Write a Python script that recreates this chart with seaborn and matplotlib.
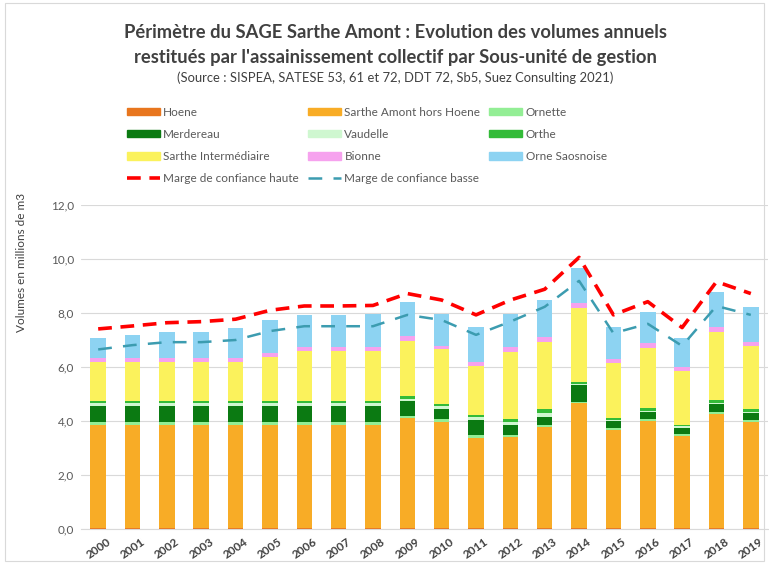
import numpy as np
import pandas as pd
import seaborn as sns
import matplotlib.pyplot as plt
from matplotlib.patches import Patch, Rectangle
from matplotlib.lines import Line2D

sns.set_style('white')
plt.rcParams['font.family'] = ['Lato', 'DejaVu Sans']

# Volumes restitués (millions de m3) par sous-unité de gestion, 2000-2019
years = list(range(2000, 2020))
hoene = [0.04] * 20
sarthe_amont = [3.81, 3.81, 3.81, 3.81, 3.81, 3.81, 3.81, 3.81, 3.81, 4.06,
                3.93, 3.32, 3.38, 3.73, 4.64, 3.63, 3.97, 3.42, 4.22, 3.93]
ornette = [0.10, 0.10, 0.10, 0.10, 0.10, 0.10, 0.10, 0.10, 0.10, 0.10,
           0.10, 0.12, 0.08, 0.08, 0.03, 0.08, 0.06, 0.06, 0.08, 0.08]
merdereau = [0.60, 0.60, 0.60, 0.60, 0.60, 0.60, 0.60, 0.60, 0.60, 0.54,
             0.37, 0.56, 0.35, 0.31, 0.62, 0.26, 0.27, 0.23, 0.28, 0.25]
vaudelle = [0.10, 0.10, 0.10, 0.10, 0.10, 0.10, 0.10, 0.10, 0.10, 0.09,
            0.10, 0.10, 0.12, 0.15, 0.03, 0.03, 0.04, 0.06, 0.06, 0.05]
orthe = [0.08, 0.08, 0.08, 0.08, 0.08, 0.08, 0.08, 0.08, 0.08, 0.10,
         0.09, 0.10, 0.10, 0.12, 0.10, 0.08, 0.09, 0.04, 0.10, 0.08]
sarthe_inter = [1.44, 1.44, 1.44, 1.44, 1.44, 1.65, 1.86, 1.86, 1.86, 2.04,
                2.04, 1.80, 2.47, 2.51, 2.71, 2.02, 2.25, 2.01, 2.53, 2.35]
bionne = [0.15, 0.15, 0.15, 0.15, 0.15, 0.15, 0.16, 0.16, 0.16, 0.18,
          0.12, 0.16, 0.19, 0.18, 0.21, 0.14, 0.16, 0.15, 0.18, 0.16]
orne = [0.75, 0.87, 0.99, 0.99, 1.11, 1.21, 1.18, 1.18, 1.20, 1.27,
        1.19, 1.29, 1.25, 1.36, 1.30, 1.21, 1.17, 1.07, 1.30, 1.29]
marge_haute = [7.41, 7.52, 7.64, 7.68, 7.77, 8.10, 8.26, 8.26, 8.28, 8.72,
               8.48, 7.93, 8.48, 8.88, 10.06, 7.93, 8.42, 7.46, 9.16, 8.72]
marge_basse = [6.65, 6.81, 6.92, 6.92, 7.00, 7.33, 7.51, 7.51, 7.51, 7.93,
               7.74, 7.19, 7.68, 8.23, 9.19, 7.25, 7.60, 6.78, 8.26, 7.93]

units = ['Hoene', 'Sarthe Amont hors Hoene', 'Ornette', 'Merdereau', 'Vaudelle',
         'Orthe', 'Sarthe Intermédiaire', 'Bionne', 'Orne Saosnoise']
values = [hoene, sarthe_amont, ornette, merdereau, vaudelle, orthe,
          sarthe_inter, bionne, orne]
colors = ['#E8761E', '#F8AC26', '#93EE95', '#0B7A12', '#CFF7D0', '#33BB38',
          '#FBF25C', '#F6A2EE', '#8DD3F2']

df = pd.DataFrame({'annee': np.tile(years, len(units)),
                   'unite': np.repeat(units, len(years)),
                   'volume': np.concatenate(values)})

fig = plt.figure(figsize=(7.69, 5.64), dpi=100)
ax = fig.add_axes([81/769, 35/564, 687/769, 324/564])

# seaborn empile en ordre inverse : la derniere modalite en bas
sns.histplot(data=df, x='annee', weights='volume', hue='unite',
             hue_order=units[::-1], palette=dict(zip(units, colors)),
             multiple='stack', discrete=True, shrink=0.45, linewidth=0,
             alpha=1, legend=False, ax=ax)

lines = pd.DataFrame({'annee': years, 'haute': marge_haute, 'basse': marge_basse})
sns.lineplot(data=lines, x='annee', y='basse', color='#3C9CB0', lw=1.8,
             linestyle=(0, (5.5, 4.5)), ax=ax)
sns.lineplot(data=lines, x='annee', y='haute', color='#FF0000', lw=2.6,
             linestyle=(0, (3.8, 2.4)), ax=ax)

ax.set_xlim(1999.5, 2019.5)
ax.set_ylim(0, 12)
ax.set_yticks(np.arange(0, 13, 2))
ax.set_yticklabels([f'{v:.1f}'.replace('.', ',') for v in np.arange(0, 13, 2)],
                   color='#595959', fontsize=8.5)
ax.set_xticks(years)
ax.set_xticklabels([str(y) for y in years], rotation=35, ha='center',
                   color='#404040', fontsize=8.5, fontweight='bold')
ax.tick_params(length=0, pad=5)
ax.set_xlabel('')
ax.set_ylabel('')
ax.yaxis.grid(True, color='#D9D9D9', lw=0.8)
ax.set_axisbelow(True)
for s in ['top', 'right', 'left']:
    ax.spines[s].set_visible(False)
ax.spines['bottom'].set_color('#D9D9D9')

fig.text(22/769, 1 - 262/564, 'Volumes en millions de m3', rotation=90,
         ha='center', va='center', fontsize=8.5, color='#404040')

fig.text(0.514, 1 - 33/564,
         'Périmètre du SAGE Sarthe Amont : Evolution des volumes annuels',
         ha='center', va='center', fontsize=13.2, fontweight='bold', color='#404040')
fig.text(0.514, 1 - 57/564,
         "restitués par l'assainissement collectif par Sous-unité de gestion",
         ha='center', va='center', fontsize=13.2, fontweight='bold', color='#404040')
fig.text(0.514, 1 - 78/564,
         '(Source : SISPEA, SATESE 53, 61 et 72, DDT 72, Sb5, Suez Consulting 2021)',
         ha='center', va='center', fontsize=9.4, color='#404040')

handles = [Patch(color=c) for c in colors]
handles += [Line2D([], [], color='#FF0000', lw=2.6, linestyle=(0, (3.8, 2.4))),
            Line2D([], [], color='#3C9CB0', lw=1.8, linestyle=(0, (5.5, 4.5)))]
labels = units + ['Marge de confiance haute', 'Marge de confiance basse']
# ordre colonne par colonne pour obtenir le remplissage en lignes
order = [0, 3, 6, 9, 1, 4, 7, 10, 2, 5, 8]
leg = fig.legend([handles[i] for i in order], [labels[i] for i in order],
                 ncol=3, loc='upper left', bbox_to_anchor=(116/769, 1 - 96/564),
                 frameon=False, fontsize=8.5, handlelength=2.8, handleheight=0.6,
                 handletextpad=0.3, columnspacing=0.75, labelspacing=0.95)
for t in leg.get_texts():
    t.set_color('#595959')

fig.add_artist(Rectangle((0.006, 0.006), 0.988, 0.988, transform=fig.transFigure,
                         fill=False, edgecolor='#D9D9D9', lw=0.8))

fig.savefig('out.png', dpi=100)
